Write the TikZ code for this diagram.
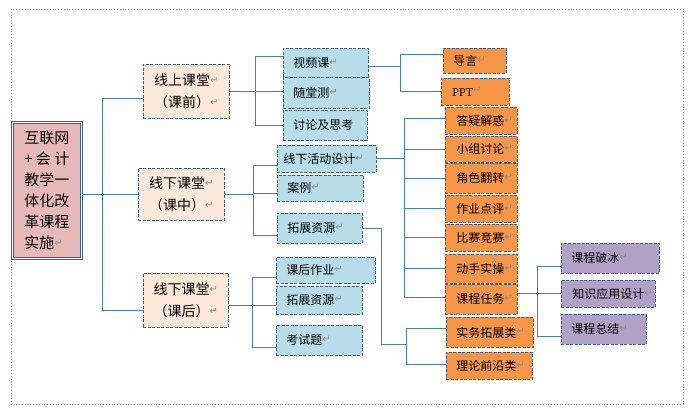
\documentclass[tikz,border=0pt]{standalone}
\usepackage{fontspec}
\setmainfont{Noto Sans CJK SC}
\newfontfamily\latinserif{Liberation Serif}
\newfontfamily\dejavu{DejaVu Sans}
\definecolor{rootfill}{HTML}{E6B9B8}
\definecolor{peach}{HTML}{FDE9D9}
\definecolor{lblue}{HTML}{B7DDE8}
\definecolor{orng}{HTML}{F79646}
\definecolor{purp}{HTML}{B2A1C7}
\definecolor{bord}{HTML}{3B5E8C}
\definecolor{linkc}{HTML}{4A7EBB}
\definecolor{frm}{HTML}{6F8DB5}
\definecolor{retg}{HTML}{8C8C8C}
\newcommand\rt{{\color{retg}\dejavu\fontsize{10}{10}\selectfont\raisebox{2.2pt}{↵}}}
\def\bxpad{10pt}
\tikzset{
  pad/.code={\def\bxpad{#1}},
  bx/.style 2 args={anchor=north west, minimum width=#1pt, minimum height=#2pt,
    text width=#1pt, inner xsep=0pt, inner ysep=0pt, align=left,
    execute at begin node={\noindent\hspace*{\bxpad}}},
  dbox/.style={draw=bord, line width=0.8pt, dash pattern=on 3pt off 1.5pt,
    font=\fontsize{12}{14}\selectfont},
  lb/.style={dbox, fill=lblue},
  og/.style={dbox, fill=orng},
  pu/.style={dbox, fill=purp},
  pe/.style={dbox, fill=peach, anchor=north west, align=center, inner sep=0pt,
    font=\fontsize{14}{22}\selectfont},
  rootbox/.style={draw=bord, line width=0.6pt, double=white, double distance=1.2pt,
    fill=rootfill, anchor=north west, align=center, inner sep=0pt,
    font=\fontsize{15}{21}\selectfont},
  link/.style={draw=linkc, line width=0.9pt},
  frame/.style={draw=frm, dotted, line width=0.8pt}
}
\begin{document}
\begin{tikzpicture}[x=1pt, y=-1pt]
\useasboundingbox (0,0) rectangle (695,415);
\draw[frame] (11,9) rectangle (683,404);

% root
\node[rootbox, minimum width=69pt, minimum height=136pt] (root) at (12,122)
 {\hbox to 45pt{互\hfil 联\hfil 网}\\ \hbox to 45pt{+\hfil 会\hfil 计}\\
  \hbox to 45pt{教\hfil 学\hfil 一}\\ \hbox to 45pt{体\hfil 化\hfil 改}\\
  \hbox to 45pt{革\hfil 课\hfil 程}\\ \hbox to 45pt{实施\rt\hfil}};

% level 1
\node[pe, minimum width=86pt, minimum height=54pt] (l1a) at (143,64) {线上课堂\rt\\（课前）\rt};
\node[pe, minimum width=86pt, minimum height=52pt] (l1b) at (138,168) {线下课堂\rt\\（课中）\rt};
\node[pe, minimum width=85pt, minimum height=54pt] (l1c) at (143,273) {线下课堂\rt\\（课后）\rt};

% level 2
\node[lb, bx={85}{29}] (v1) at (283,48) {视频课\rt};
\node[lb, bx={86}{31}] (v2) at (283,77) {随堂测\rt};
\node[lb, bx={84}{30}] (v3) at (283,110) {讨论及思考};
\node[lb, bx={99}{27}, pad=6pt] (d1) at (277,145) {线下活动设计\rt};
\node[lb, bx={86}{26}] (d2) at (277,175) {案例\rt};
\node[lb, bx={85}{30}] (d3) at (277,213) {拓展资源\rt};
\node[lb, bx={99}{26}] (e1) at (276,257) {课后作业\rt};
\node[lb, bx={86}{28}] (e2) at (276,286) {拓展资源\rt};
\node[lb, bx={86}{30}] (e3) at (276,325) {考试题\rt};

% level 3 orange
\node[og, bx={63}{25}] (o1) at (443,48) {导言\rt};
\node[og, bx={68}{27}, pad=11pt] (o2) at (441,78) {{\latinserif PPT}\rt};
\node[og, bx={72}{27}, pad=11pt] (p1) at (445,107) {答疑解惑\rt};
\node[og, bx={72}{26}, pad=11pt] (p2) at (445,136) {小组讨论\rt};
\node[og, bx={72}{30}, pad=11pt] (p3) at (445,163) {角色翻转\rt};
\node[og, bx={72}{27}, pad=11pt] (p4) at (445,195) {作业点评\rt};
\node[og, bx={72}{27}, pad=11pt] (p5) at (445,224) {比赛竞赛\rt};
\node[og, bx={72}{29}, pad=11pt] (p6) at (445,254) {动手实操\rt};
\node[og, bx={72}{30}, pad=11pt] (p7) at (445,284) {课程任务\rt};
\node[og, bx={87}{30}] (r1) at (446,317) {实务拓展类\rt};
\node[og, bx={86}{27}] (r2) at (446,352) {理论前沿类\rt};

% level 4 purple
\node[pu, bx={98}{30}] (q1) at (561,243) {课程破冰\rt};
\node[pu, bx={94}{27}, pad=11pt] (q2) at (561,280) {知识应用设计\rt};
\node[pu, bx={85}{30}] (q3) at (561,314) {课程总结\rt};

% junctions
\path (root.east |- l1b.west) ++(21,0) coordinate (jt);
\path (l1a.east) ++(26,0) coordinate (ja);
\path (l1b.east) ++(29,0) coordinate (jb);
\path ([yshift=-5pt]l1c.east) ++(24,0) coordinate (jc);
\path ([yshift=-3.5pt]v1.east) ++(32,0) coordinate (jo);
\path (d1.east) ++(28,0) coordinate (jp);
\path ([yshift=6pt]p7.east) ++(20,0) coordinate (jq);
\path (r1.west) ++(-40,12) coordinate (jr);

% connectors
\draw[link] (root.east |- l1b.west) -- (l1b.west);
\draw[link] ([yshift=-7pt]l1a.west) -| (jt);
\draw[link] ([yshift=-10pt]l1c.west) -| (jt);

\draw[link] (l1a.east) -- (ja);
\draw[link] ([yshift=6.5pt]v1.west) -| (ja);
\draw[link] ([yshift=1.5pt]v2.west) -| (ja);
\draw[link] (v3.west) -| (ja);

\draw[link] (l1b.east) -- (jb);
\draw[link] ([yshift=-6.5pt]d1.west) -| (jb);
\draw[link] ([yshift=-5pt]d2.west) -| (jb);
\draw[link] ([yshift=-7pt]d3.west) -| (jb);

\draw[link] ([yshift=-5pt]l1c.east) -- (jc);
\draw[link] ([yshift=-7pt]e1.west) -| (jc);
\draw[link] ([yshift=-5pt]e2.west) -| (jc);
\draw[link] ([yshift=-7pt]e3.west) -| (jc);

\draw[link] ([yshift=-3.5pt]v1.east) -- (jo);
\draw[link] ([yshift=6.5pt]o1.west) -| (jo);
\draw[link] (o2.west) -| (jo);

\draw[link] (d1.east) -- (jp);
\draw[link] ([yshift=2.5pt]p1.west) -| (jp);
\draw[link] (p2.west) -| (jp);
\draw[link] (p3.west) -| (jp);
\draw[link] (p4.west) -| (jp);
\draw[link] (p5.west) -| (jp);
\draw[link] (p6.west) -| (jp);
\draw[link] ([yshift=2pt]p7.west) -| (jp);

\draw[link] ([yshift=6pt]p7.east) -- (jq);
\draw[link] ([yshift=-8pt]q1.west) -| (jq);
\draw[link] (q2.west) -| (jq);
\draw[link] ([yshift=-7pt]q3.west) -| (jq);

\draw[link] (d3.east) -- ++(19,0) |- (jr);
\draw[link] ([yshift=4pt]r1.west) -| (jr);
\draw[link] ([yshift=1.5pt]r2.west) -| (jr);
\end{tikzpicture}
\end{document}
